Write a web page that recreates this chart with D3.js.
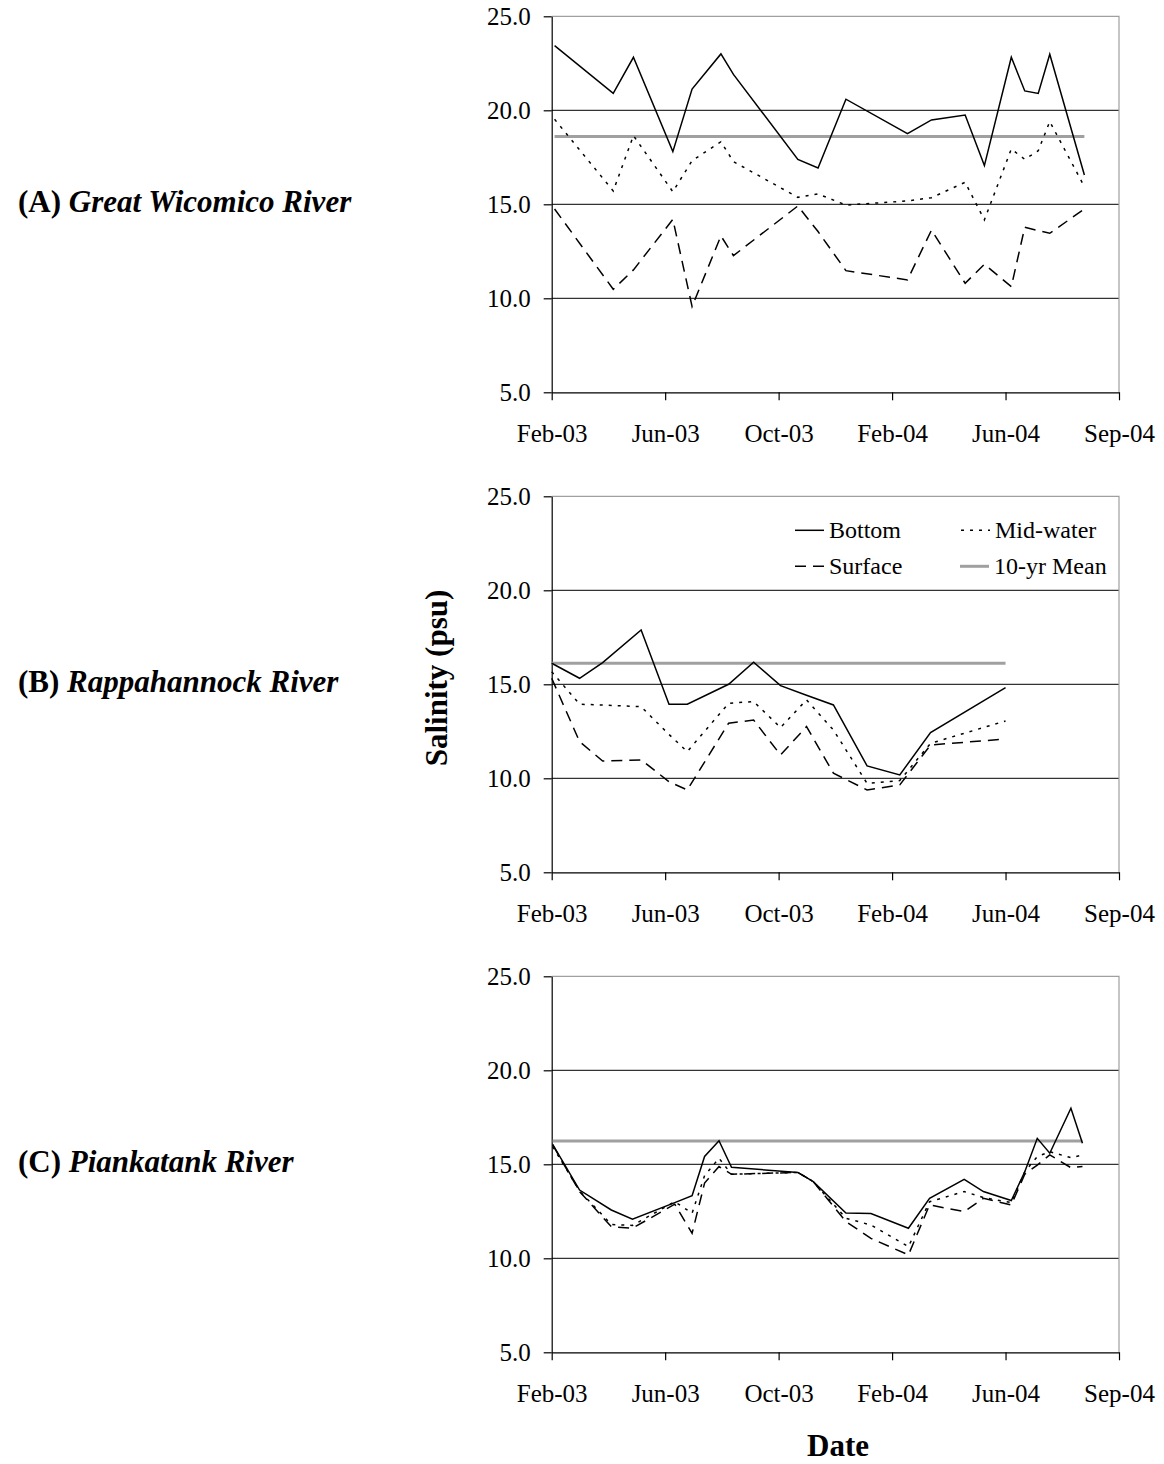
<!DOCTYPE html>
<html>
<head>
<meta charset="utf-8">
<script src="https://cdn.jsdelivr.net/npm/d3@7"></script>
<style>
  body { margin: 0; background: #fff; }
  text { font-family: "Liberation Serif", "Times New Roman", serif; fill: #000; }
</style>
</head>
<body>
<div id="chart"></div>
<script>
// x axis ticks (Excel-style, evenly spaced)
const tickDates = ["2003-02-15", "2003-06-13", "2003-10-09", "2004-02-04", "2004-06-01", "2004-09-27"];
const yTicks = [5, 10, 15, 20, 25];

// (A) Great Wicomico River
const datesA = ["2003-02-18", "2003-04-20", "2003-05-11", "2003-06-21", "2003-07-11", "2003-08-10", "2003-08-23",
    "2003-10-29", "2003-11-19", "2003-12-18", "2004-02-20", "2004-03-16", "2004-04-20", "2004-05-10",
    "2004-06-07", "2004-06-21", "2004-07-05", "2004-07-17", "2004-08-22"];
const bottomA = [23.44, 20.90, 22.82, 17.80, 21.13, 23.00, 21.91, 17.39, 16.93, 20.59, 18.76, 19.49, 19.75, 17.06, 22.82, 21.03, 20.90, 22.98, 16.56];
const midA = [19.52, 15.71, 18.65, 15.67, 17.32, 18.33, 17.27, 15.37, 15.55, 14.96, 15.18, 15.35, 16.17, 14.17, 17.94, 17.39, 17.85, 19.40, 15.94];
const surfaceA = [14.75, 10.48, 11.51, 14.20, 9.56, 13.32, 12.27, 14.91, 13.55, 11.47, 10.98, 13.63, 10.80, 11.81, 10.62, 13.78, 13.60, 13.46, 14.75];
const meanA = 18.6;

// (B) Rappahannock River
const datesB = ["2003-02-15", "2003-03-16", "2003-04-09", "2003-05-19", "2003-06-17", "2003-07-06", "2003-08-18",
    "2003-09-13", "2003-10-11", "2003-11-07", "2003-12-05", "2004-01-09", "2004-02-12", "2004-03-15", "2004-06-01"];
const bottomB = [16.12, 15.32, 16.15, 17.89, 13.94, 13.94, 15.00, 16.17, 14.93, 14.42, 13.90, 10.66, 10.18, 12.43, 14.82];
const midB = [15.67, 13.94, 13.90, 13.81, 12.33, 11.42, 13.99, 14.08, 12.70, 14.17, 12.57, 9.73, 9.88, 11.86, 13.05];
const surfaceB = [15.32, 11.95, 10.92, 10.98, 9.82, 9.38, 12.93, 13.10, 11.24, 12.75, 10.27, 9.38, 9.65, 11.77, 12.09];
const meanB = 16.12;

// (C) Piankatank River
const datesC = ["2003-02-16", "2003-03-16", "2003-04-18", "2003-05-10", "2003-06-23", "2003-07-11", "2003-07-24",
    "2003-08-08", "2003-08-21", "2003-10-29", "2003-11-14", "2003-12-18", "2004-01-13", "2004-02-21",
    "2004-03-14", "2004-04-19", "2004-05-09", "2004-06-07", "2004-06-21", "2004-07-04", "2004-07-17",
    "2004-08-08", "2004-08-20"];
const bottomC = [16.06, 13.63, 12.57, 12.08, 12.96, 13.33, 15.42, 16.25, 14.84, 14.57, 14.08, 12.41, 12.38, 11.60, 13.19, 14.20, 13.55, 13.07, 14.60, 16.38, 15.59, 17.98, 16.12];
const midC = [15.94, 13.58, 11.80, 11.75, 13.01, 12.40, 14.40, 15.32, 14.47, 14.57, 14.08, 12.13, 11.77, 10.62, 13.01, 13.55, 13.23, 12.96, 14.61, 15.41, 15.67, 15.35, 15.50];
const surfaceC = [16.03, 13.55, 11.68, 11.60, 12.88, 11.33, 14.00, 14.88, 14.47, 14.57, 14.08, 11.95, 11.06, 10.18, 12.84, 12.48, 13.19, 12.84, 14.47, 14.96, 15.50, 14.82, 14.88];
const meanC = 16.24;

const legendNames = ["Bottom", "Mid-water", "Surface", "10-yr Mean"];

let width = 1164;
let height = 1464;
let left = 551.7;
let right = 1119;
let panelHeight = 376;

let parse = d3.utcParse("%Y-%m-%d");

let chart = d3.select("#chart").append("svg")
    .attr("width", width)
    .attr("height", height);

let xscale = d3.scaleUtc()
    .domain([parse(tickDates[0]), parse(tickDates[tickDates.length - 1])])
    .range([left, right]);

let styles = {
    bottom: { dash: null, color: "#000", w: 1.5 },
    mid: { dash: "3,6", color: "#000", w: 1.5 },
    surface: { dash: "11,7", color: "#000", w: 1.5 },
    mean: { dash: null, color: "#a0a0a0", w: 3 }
};

function drawPanel(top, dates, bottom, mid, surface, mean, tag, name, showLegend) {
    let g = chart.append("g");
    let yscale = d3.scaleLinear()
        .domain([5, 25])
        .range([top + panelHeight, top]);

    // gridlines
    g.selectAll(".grid").data([10, 15, 20]).enter().append("line")
        .attr("x1", left).attr("x2", right)
        .attr("y1", d => yscale(d)).attr("y2", d => yscale(d))
        .attr("stroke", "#000").attr("stroke-width", 1);

    // plot border (top and right)
    g.append("path")
        .attr("d", "M" + left + "," + yscale(25) + "H" + right + "V" + yscale(5))
        .attr("fill", "none").attr("stroke", "#a0a0a0").attr("stroke-width", 1.2);

    let yAxis = g.append("g")
        .attr("transform", "translate(" + left + ",0)")
        .call(d3.axisLeft(yscale).tickValues(yTicks).tickFormat(d3.format(".1f"))
            .tickSize(8).tickPadding(13).tickSizeOuter(0));

    let xAxis = g.append("g")
        .attr("transform", "translate(0," + yscale(5) + ")")
        .call(d3.axisBottom(xscale).tickValues(tickDates.map(parse))
            .tickFormat(d3.utcFormat("%b-%y")).tickSize(8).tickPadding(24).tickSizeOuter(0));

    [yAxis, xAxis].forEach(a => {
        a.selectAll("text").style("font-size", "25px").style("font-family", "'Liberation Serif', serif");
        a.selectAll("line, path").attr("stroke", "#000").attr("stroke-width", 1.2);
    });

    // 10-yr mean
    let first = parse(dates[0]);
    let last = parse(dates[dates.length - 1]);
    g.append("line")
        .attr("x1", xscale(first)).attr("x2", xscale(last))
        .attr("y1", yscale(mean)).attr("y2", yscale(mean))
        .attr("stroke", styles.mean.color).attr("stroke-width", styles.mean.w);

    let line = d3.line()
        .x((d, i) => xscale(parse(dates[i])))
        .y(d => yscale(d));

    [[surface, styles.surface], [mid, styles.mid], [bottom, styles.bottom]].forEach(s => {
        g.append("path")
            .attr("d", line(s[0]))
            .attr("fill", "none")
            .attr("stroke", s[1].color)
            .attr("stroke-width", s[1].w)
            .attr("stroke-dasharray", s[1].dash)
            .attr("stroke-linejoin", "miter");
    });

    // panel label
    let label = g.append("text")
        .attr("x", 18)
        .attr("y", top + 196)
        .style("font-size", "31px")
        .style("font-weight", "bold");
    label.append("tspan").text(tag + " ");
    label.append("tspan").style("font-style", "italic").text(name);

    if (showLegend) {
        let items = [
            { name: legendNames[0], s: styles.bottom, x: 795, y: top + 34 },
            { name: legendNames[1], s: styles.mid, x: 961, y: top + 34 },
            { name: legendNames[2], s: styles.surface, x: 795, y: top + 70 },
            { name: legendNames[3], s: styles.mean, x: 960, y: top + 70 }
        ];
        let lg = g.selectAll(".legend").data(items).enter().append("g");
        lg.append("line")
            .attr("x1", d => d.x).attr("x2", d => d.x + 29)
            .attr("y1", d => d.y).attr("y2", d => d.y)
            .attr("stroke", d => d.s.color)
            .attr("stroke-width", d => d.s.w)
            .attr("stroke-dasharray", d => d.s.dash);
        lg.append("text")
            .attr("x", d => d.x + 34)
            .attr("y", d => d.y + 8)
            .style("font-size", "24px")
            .text(d => d.name);
    }
}

drawPanel(16.3, datesA, bottomA, midA, surfaceA, meanA, "(A)", "Great Wicomico River", false);
drawPanel(496.3, datesB, bottomB, midB, surfaceB, meanB, "(B)", "Rappahannock River", true);
drawPanel(976.3, datesC, bottomC, midC, surfaceC, meanC, "(C)", "Piankatank River", false);

// axis titles
chart.append("text")
    .attr("transform", "translate(447,678) rotate(-90)")
    .style("text-anchor", "middle")
    .style("font-size", "31px")
    .style("font-weight", "bold")
    .text("Salinity (psu)");

chart.append("text")
    .attr("x", 838)
    .attr("y", 1456)
    .style("text-anchor", "middle")
    .style("font-size", "31px")
    .style("font-weight", "bold")
    .text("Date");
</script>
</body>
</html>
